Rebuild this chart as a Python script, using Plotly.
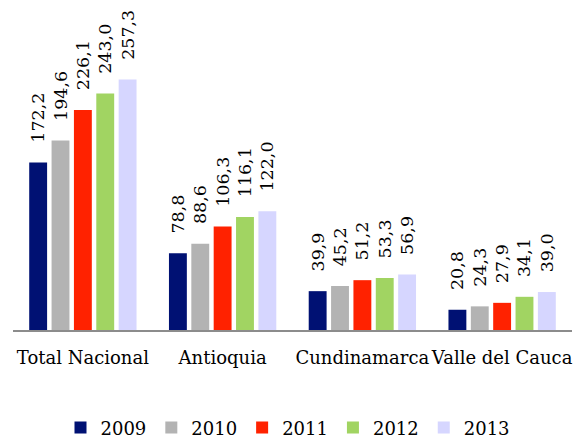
import plotly.graph_objects as go

categories = ["Total Nacional", "Antioquia", "Cundinamarca", "Valle del Cauca"]
years = ["2009", "2010", "2011", "2012", "2013"]
values_2009 = [172.2, 78.8, 39.9, 20.8]
values_2010 = [194.6, 88.6, 45.2, 24.3]
values_2011 = [226.1, 106.3, 51.2, 27.9]
values_2012 = [243.0, 116.1, 53.3, 34.1]
values_2013 = [257.3, 122.0, 56.9, 39.0]
series = [values_2009, values_2010, values_2011, values_2012, values_2013]
colors = ["#001173", "#B3B3B3", "#FF2200", "#A1D462", "#D6D6FF"]

FONT = "DejaVu Serif"
PAD = "\u00a0\u00a0\u00a0"

fig = go.Figure()
for name, vals, col in zip(years, series, colors):
    fig.add_trace(go.Bar(
        x=categories, y=vals, name=name,
        marker=dict(color=col, line=dict(width=0)),
        text=[PAD + f"{v:.1f}".replace(".", ",") for v in vals],
        textposition="outside", textangle=-90,
        constraintext="none", cliponaxis=False,
        textfont=dict(family=FONT, size=17.5, color="#000000"),
    ))

fig.update_layout(
    width=576, height=441,
    margin=dict(l=13, r=4, t=38, b=111, autoexpand=False),
    paper_bgcolor="white", plot_bgcolor="white",
    barmode="group", bargap=0.2, bargroupgap=0.2,
    font=dict(family=FONT, size=18, color="#000000"),
    showlegend=True,
    legend=dict(orientation="h", xref="container", yref="paper",
                x=0.5, xanchor="center", y=-0.335, yanchor="middle",
                font=dict(family=FONT, size=18), itemwidth=30),
)
fig.update_xaxes(showline=True, linecolor="#8C8C8C", linewidth=2, ticks="",
                 tickangle=0, automargin=False, ticklabelstandoff=10,
                 showgrid=False, tickfont=dict(family=FONT, size=18))
fig.update_yaxes(range=[0, 300], visible=False, showgrid=False, zeroline=False)

fig.write_html("out.html", config={"displayModeBar": False},
               post_script="document.body.style.margin='0';")
